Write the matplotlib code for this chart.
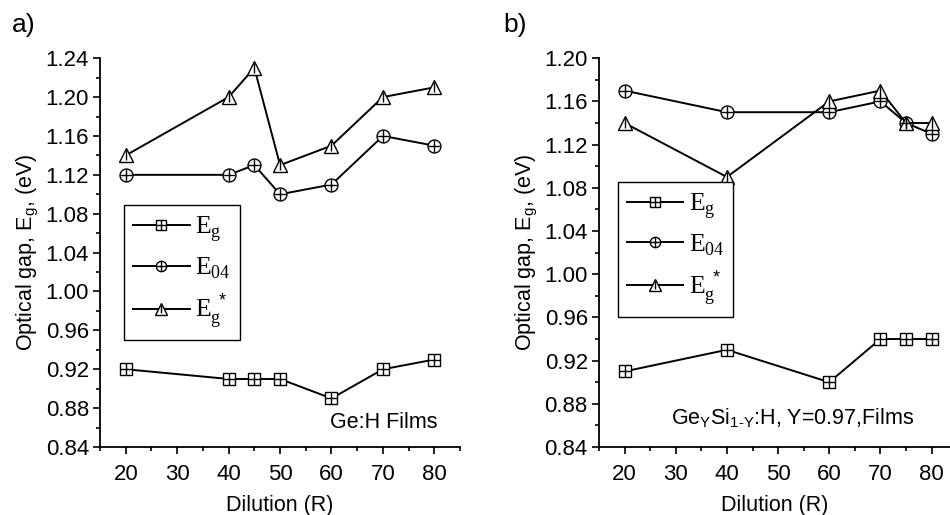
import matplotlib
matplotlib.use('Agg')
import matplotlib.pyplot as plt
from matplotlib.ticker import MultipleLocator
from matplotlib.legend_handler import HandlerTuple

plt.rcParams['font.family'] = 'Liberation Sans'
plt.rcParams['mathtext.fontset'] = 'custom'
plt.rcParams['mathtext.rm'] = 'Liberation Sans'
plt.rcParams['mathtext.it'] = 'Liberation Sans'

# panel a) Ge:H films
dil_a = [20, 40, 45, 50, 60, 70, 80]
eg_a = [0.92, 0.91, 0.91, 0.91, 0.89, 0.92, 0.93]
e04_a = [1.12, 1.12, 1.13, 1.10, 1.11, 1.16, 1.15]
egs_a = [1.14, 1.20, 1.23, 1.13, 1.15, 1.20, 1.21]

# panel b) GeSi:H films
dil_b = [20, 40, 60, 70, 75, 80]
eg_b = [0.91, 0.93, 0.90, 0.94, 0.94, 0.94]
e04_b = [1.17, 1.15, 1.15, 1.16, 1.14, 1.13]
egs_b = [1.14, 1.09, 1.16, 1.17, 1.14, 1.14]

fig = plt.figure(figsize=(9.5, 5.15), dpi=100)
ax1 = fig.add_axes([0.1053, 0.132, 0.379, 0.755])
ax2 = fig.add_axes([0.6305, 0.132, 0.369, 0.755])

FS = 15.5


def draw(ax, x, eg, e04, egs):
    handles = []
    for y, mk, ms in [(eg, 's', 8.3), (e04, 'o', 9.3), (egs, '^', 10)]:
        ln, = ax.plot(x, y, '-', color='black', lw=1.4, marker=mk, ms=ms,
                      mfc='white', mec='black', mew=1.0, zorder=3)
        pm = '|' if mk == '^' else '+'
        pms = ms * 0.7 if mk == '^' else ms
        pl, = ax.plot(x, y, ls='none', marker=pm, ms=pms, color='black',
                      mew=1.0, zorder=4)
        handles.append((ln, pl))
    for s in ['top', 'right']:
        ax.spines[s].set_visible(False)
    ax.spines['left'].set_linewidth(1.3)
    ax.spines['bottom'].set_linewidth(1.3)
    ax.xaxis.set_major_locator(MultipleLocator(10))
    ax.xaxis.set_minor_locator(MultipleLocator(5))
    ax.yaxis.set_major_locator(MultipleLocator(0.04))
    ax.yaxis.set_minor_locator(MultipleLocator(0.02))
    ax.yaxis.set_major_formatter(plt.FormatStrFormatter('%.2f'))
    ax.tick_params(which='major', direction='out', length=5, width=1.2,
                   labelsize=16, pad=3)
    ax.tick_params(axis='x', which='major', pad=7.5)
    ax.tick_params(which='minor', direction='out', length=3, width=1.2)
    ax.set_xlabel('Dilution (R)', fontsize=FS, labelpad=7)
    ax.set_ylabel('Optical gap, E$_g$, (eV)', fontsize=FS, labelpad=3)
    return handles


h1 = draw(ax1, dil_a, eg_a, e04_a, egs_a)
ax1.set_xlim(15, 85)
ax1.set_ylim(0.84, 1.24)
h2 = draw(ax2, dil_b, eg_b, e04_b, egs_b)
ax2.set_xlim(15, 83.5)
ax2.set_ylim(0.84, 1.20)

labels = [r'E$_\mathregular{g}$', r'E$_\mathregular{04}$', r'E$_\mathregular{g}^{\ *}$']
for ax, h, pos in [(ax1, h1, (0.067, 0.275)), (ax2, h2, (0.054, 0.335))]:
    leg = ax.legend(h, labels, loc='lower left', bbox_to_anchor=pos,
                    borderaxespad=0, markerscale=0.8,
                    handler_map={tuple: HandlerTuple(ndivide=1)},
                    prop={'family': 'Liberation Serif', 'size': 18.5},
                    fancybox=False, edgecolor='black', framealpha=1,
                    handlelength=2.2, handletextpad=0.2, labelspacing=0.45,
                    borderpad=0.35)
    leg.get_frame().set_linewidth(1.0)

ax1.text(0.936, 0.062, 'Ge:H Films', transform=ax1.transAxes, ha='right',
         va='center', fontsize=FS)
ax2.text(0.552, 0.075, 'Ge$_Y$Si$_{1\u2010Y}$:H, Y=0.97,Films',
         transform=ax2.transAxes, ha='center', va='center', fontsize=FS)

fig.text(0.012, 0.952, 'a)', fontsize=19, va='center')
fig.text(0.53, 0.952, 'b)', fontsize=19, va='center')

fig.savefig('out.png', dpi=100)
